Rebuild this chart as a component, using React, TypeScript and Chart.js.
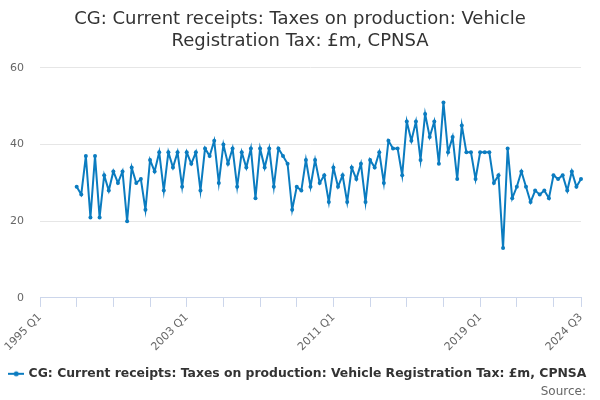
import { useEffect, useRef } from "react";
import Chart from "chart.js/auto";

const TITLE = [
  "CG: Current receipts: Taxes on production: Vehicle",
  "Registration Tax: £m, CPNSA",
];
const SERIES_NAME =
  "CG: Current receipts: Taxes on production: Vehicle Registration Tax: £m, CPNSA";
const SOURCE = "Source:";

// quarterly axis, 1995 Q1 .. 2024 Q3
const axisYears = [
  1995, 1996, 1997, 1998, 1999, 2000, 2001, 2002, 2003, 2004, 2005, 2006, 2007,
  2008, 2009, 2010, 2011, 2012, 2013, 2014, 2015, 2016, 2017, 2018, 2019, 2020,
  2021, 2022, 2023, 2024,
];
const quarters = ["Q1", "Q2", "Q3", "Q4"];
const lastLabel = "2024 Q3";
const shownLabels = ["1995 Q1", "2003 Q1", "2011 Q1", "2019 Q1", "2024 Q3"];

// first observation 1997 Q1
const firstObs = "1997 Q1";
const receipts = [
  29, 27, 37, 21, 37, 21, 32, 28, 33, 30, 33, 20, 34, 30, 31, 23, 36, 33, 38,
  28, 38, 34, 38, 29, 38, 35, 38, 28, 39, 37, 41, 30, 40, 35, 39, 29, 38, 34,
  39, 26, 39, 34, 39, 29, 39, 37, 35, 23, 29, 28, 36, 29, 36, 30, 32, 25, 34,
  29, 32, 25, 34, 31, 35, 25, 36, 34, 38, 30, 41, 39, 39, 32, 46, 41, 46, 36,
  48, 42, 46, 35, 51, 38, 42, 31, 45, 38, 38, 31, 38, 38, 38, 30, 32, 13, 39,
  26, 29, 33, 29, 25, 28, 27, 28, 26, 32, 31, 32, 28, 33, 29, 31,
];

const LINE = "#0b7cc0";

const buildLabels = () => {
  const out: string[] = [];
  for (const y of axisYears) {
    for (const q of quarters) {
      const l = `${y} ${q}`;
      out.push(l);
      if (l === lastLabel) return out;
    }
  }
  return out;
};

const legendSymbol = () => {
  const c = document.createElement("canvas");
  c.width = 16;
  c.height = 10;
  const ctx = c.getContext("2d");
  if (ctx) {
    ctx.strokeStyle = LINE;
    ctx.lineWidth = 2;
    ctx.beginPath();
    ctx.moveTo(0, 5);
    ctx.lineTo(16, 5);
    ctx.stroke();
    ctx.fillStyle = LINE;
    ctx.beginPath();
    ctx.arc(8, 5, 2.5, 0, Math.PI * 2);
    ctx.fill();
  }
  return c;
};

// "Source:" line under the legend, right aligned
const sourcePlugin = {
  id: "sourceNote",
  afterDraw(chart: any) {
    const { ctx, width } = chart;
    ctx.save();
    ctx.font = "12px 'DejaVu Sans', sans-serif";
    ctx.fillStyle = "#666666";
    ctx.textAlign = "right";
    ctx.textBaseline = "middle";
    ctx.fillText(SOURCE, width - 14, 392);
    ctx.restore();
  },
};

const App = () => {
  const chartRef = useRef<HTMLCanvasElement>(null);
  const chartInstance = useRef<Chart | null>(null);

  useEffect(() => {
    document.body.style.margin = "0";
    if (!chartRef.current) return;

    const labels = buildLabels();
    const start = labels.indexOf(firstObs);
    const data = labels.map((_, i) =>
      i >= start && i - start < receipts.length ? receipts[i - start] : null
    );

    Chart.defaults.font.family = "'DejaVu Sans', sans-serif";

    chartInstance.current = new Chart(chartRef.current, {
      type: "line",
      data: {
        labels,
        datasets: [
          {
            label: SERIES_NAME,
            data,
            borderColor: LINE,
            backgroundColor: LINE,
            borderWidth: 2,
            pointRadius: 2,
            pointBorderWidth: 0,
            pointBackgroundColor: LINE,
            tension: 0,
          },
        ],
      },
      plugins: [sourcePlugin],
      options: {
        animation: false,
        responsive: false,
        layout: { padding: { left: 0, right: 0, top: 0, bottom: 10 } },
        plugins: {
          title: {
            display: true,
            text: TITLE,
            color: "#333333",
            font: { size: 18, weight: "normal", lineHeight: 1.22 },
            padding: { top: 8, bottom: 16 },
          },
          legend: {
            position: "bottom",
            align: "start",
            labels: {
              usePointStyle: true,
              pointStyle: legendSymbol(),
              boxWidth: 16,
              color: "#333333",
              font: { size: 12.4, weight: "bold" },
              padding: 10,
            },
          },
          tooltip: { enabled: false },
        },
        scales: {
          x: {
            type: "category",
            offset: false,
            afterBuildTicks: (axis: any) => {
              const n = labels.length;
              axis.ticks = axis.ticks.filter(
                (t: any) => t.value % 8 === 0 || t.value === n - 1
              );
            },
            afterFit: (axis: any) => {
              axis.paddingLeft = 0;
              axis.paddingRight = 19;
            },
            ticks: {
              autoSkip: false,
              maxRotation: 45,
              minRotation: 45,
              color: "#666666",
              font: { size: 11 },
              padding: 4,
              callback: function (this: any, value: any) {
                const l = labels[value as number];
                return shownLabels.includes(l) ? l : "";
              },
            },
            grid: {
              drawOnChartArea: false,
              drawTicks: true,
              tickLength: 9,
              color: "#ccd6eb",
            },
            border: { color: "#ccd6eb", width: 1 },
          },
          y: {
            min: 0,
            max: 60,
            afterFit: (axis: any) => {
              axis.width = 40;
            },
            ticks: {
              stepSize: 20,
              color: "#666666",
              font: { size: 11 },
              padding: 16,
            },
            grid: { color: "#e6e6e6", drawTicks: false },
            border: { display: false },
          },
        },
      },
    });

    return () => {
      if (chartInstance.current) {
        chartInstance.current.destroy();
        chartInstance.current = null;
      }
    };
  }, []);

  return <canvas ref={chartRef} width={600} height={400} />;
};

export default App;
